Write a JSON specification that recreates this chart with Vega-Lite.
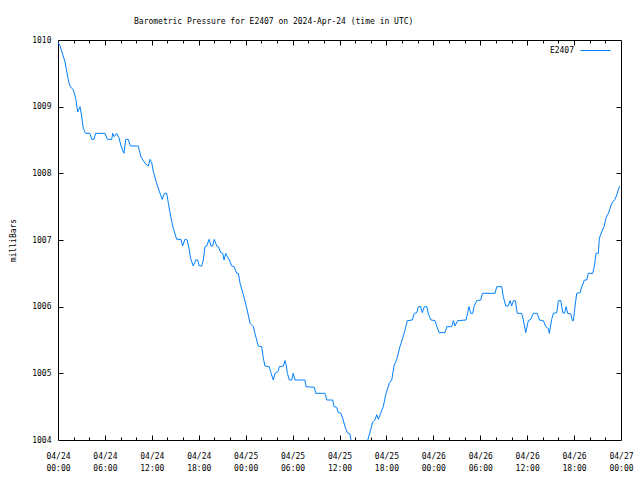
{
  "$schema": "https://vega.github.io/schema/vega-lite/v6.json",
  "width": 563,
  "height": 400,
  "autosize": "none",
  "padding": {"left": 58, "top": 40, "right": 19, "bottom": 40},
  "background": "white",
  "config": {
    "view": {"stroke": null},
    "font": "DejaVu Sans Mono",
    "axis": {
      "labelFont": "DejaVu Sans Mono", "labelFontSize": 8, "labelColor": "black",
      "titleFont": "DejaVu Sans Mono", "titleFontSize": 8, "titleFontWeight": "normal", "titleColor": "black",
      "domainColor": "black", "tickColor": "black", "tickOpacity": 1, "tickWidth": 1, "grid": false, "labelFlush": false, "labelOverlap": false, "labelBound": false
    }
  },
  "title": {
    "text": "Barometric Pressure for E2407 on 2024-Apr-24 (time in UTC)",
    "anchor": "start", "frame": "group", "dx": 76, "offset": 4, "baseline": "alphabetic",
    "font": "DejaVu Sans Mono", "fontSize": 8, "fontWeight": "normal", "color": "black"
  },
  "data": {"values": [
    {"time": "2024-04-24T00:00:00Z", "mb": 1009.97},
    {"time": "2024-04-24T00:16:00Z", "mb": 1009.91},
    {"time": "2024-04-24T00:54:00Z", "mb": 1009.67},
    {"time": "2024-04-24T01:19:00Z", "mb": 1009.4},
    {"time": "2024-04-24T01:32:00Z", "mb": 1009.31},
    {"time": "2024-04-24T01:58:00Z", "mb": 1009.25},
    {"time": "2024-04-24T02:16:00Z", "mb": 1009.12},
    {"time": "2024-04-24T02:31:00Z", "mb": 1008.92},
    {"time": "2024-04-24T02:49:00Z", "mb": 1009.0},
    {"time": "2024-04-24T03:02:00Z", "mb": 1008.85},
    {"time": "2024-04-24T03:14:00Z", "mb": 1008.67},
    {"time": "2024-04-24T03:32:00Z", "mb": 1008.6},
    {"time": "2024-04-24T04:05:00Z", "mb": 1008.6},
    {"time": "2024-04-24T04:19:00Z", "mb": 1008.51},
    {"time": "2024-04-24T04:36:00Z", "mb": 1008.51},
    {"time": "2024-04-24T04:49:00Z", "mb": 1008.6},
    {"time": "2024-04-24T06:01:00Z", "mb": 1008.6},
    {"time": "2024-04-24T06:18:00Z", "mb": 1008.51},
    {"time": "2024-04-24T06:52:00Z", "mb": 1008.51},
    {"time": "2024-04-24T07:00:00Z", "mb": 1008.6},
    {"time": "2024-04-24T07:12:00Z", "mb": 1008.55},
    {"time": "2024-04-24T07:30:00Z", "mb": 1008.6},
    {"time": "2024-04-24T07:48:00Z", "mb": 1008.53},
    {"time": "2024-04-24T08:04:00Z", "mb": 1008.41},
    {"time": "2024-04-24T08:26:00Z", "mb": 1008.3},
    {"time": "2024-04-24T08:40:00Z", "mb": 1008.51},
    {"time": "2024-04-24T08:59:00Z", "mb": 1008.51},
    {"time": "2024-04-24T09:15:00Z", "mb": 1008.41},
    {"time": "2024-04-24T10:16:00Z", "mb": 1008.41},
    {"time": "2024-04-24T10:36:00Z", "mb": 1008.25},
    {"time": "2024-04-24T11:08:00Z", "mb": 1008.15},
    {"time": "2024-04-24T11:33:00Z", "mb": 1008.11},
    {"time": "2024-04-24T11:46:00Z", "mb": 1008.21},
    {"time": "2024-04-24T11:59:00Z", "mb": 1008.16},
    {"time": "2024-04-24T12:11:00Z", "mb": 1008.03},
    {"time": "2024-04-24T12:37:00Z", "mb": 1007.85},
    {"time": "2024-04-24T13:03:00Z", "mb": 1007.7},
    {"time": "2024-04-24T13:20:00Z", "mb": 1007.61},
    {"time": "2024-04-24T13:36:00Z", "mb": 1007.7},
    {"time": "2024-04-24T13:54:00Z", "mb": 1007.7},
    {"time": "2024-04-24T14:07:00Z", "mb": 1007.55},
    {"time": "2024-04-24T14:25:00Z", "mb": 1007.35},
    {"time": "2024-04-24T14:45:00Z", "mb": 1007.17},
    {"time": "2024-04-24T15:11:00Z", "mb": 1007.01},
    {"time": "2024-04-24T15:44:00Z", "mb": 1007.01},
    {"time": "2024-04-24T15:56:00Z", "mb": 1006.91},
    {"time": "2024-04-24T16:14:00Z", "mb": 1007.01},
    {"time": "2024-04-24T16:32:00Z", "mb": 1007.0},
    {"time": "2024-04-24T16:47:00Z", "mb": 1006.85},
    {"time": "2024-04-24T16:58:00Z", "mb": 1006.72},
    {"time": "2024-04-24T17:18:00Z", "mb": 1006.61},
    {"time": "2024-04-24T17:37:00Z", "mb": 1006.7},
    {"time": "2024-04-24T17:52:00Z", "mb": 1006.7},
    {"time": "2024-04-24T18:04:00Z", "mb": 1006.61},
    {"time": "2024-04-24T18:23:00Z", "mb": 1006.61},
    {"time": "2024-04-24T18:35:00Z", "mb": 1006.7},
    {"time": "2024-04-24T18:48:00Z", "mb": 1006.9},
    {"time": "2024-04-24T19:01:00Z", "mb": 1006.91},
    {"time": "2024-04-24T19:19:00Z", "mb": 1007.01},
    {"time": "2024-04-24T19:34:00Z", "mb": 1006.91},
    {"time": "2024-04-24T19:47:00Z", "mb": 1006.91},
    {"time": "2024-04-24T19:59:00Z", "mb": 1007.01},
    {"time": "2024-04-24T20:18:00Z", "mb": 1006.91},
    {"time": "2024-04-24T20:30:00Z", "mb": 1006.9},
    {"time": "2024-04-24T20:49:00Z", "mb": 1006.81},
    {"time": "2024-04-24T21:04:00Z", "mb": 1006.8},
    {"time": "2024-04-24T21:14:00Z", "mb": 1006.7},
    {"time": "2024-04-24T21:27:00Z", "mb": 1006.8},
    {"time": "2024-04-24T21:39:00Z", "mb": 1006.75},
    {"time": "2024-04-24T21:55:00Z", "mb": 1006.7},
    {"time": "2024-04-24T22:13:00Z", "mb": 1006.61},
    {"time": "2024-04-24T22:31:00Z", "mb": 1006.6},
    {"time": "2024-04-24T22:52:00Z", "mb": 1006.5},
    {"time": "2024-04-24T23:04:00Z", "mb": 1006.5},
    {"time": "2024-04-24T23:17:00Z", "mb": 1006.35},
    {"time": "2024-04-24T23:42:00Z", "mb": 1006.18},
    {"time": "2024-04-25T00:08:00Z", "mb": 1005.98},
    {"time": "2024-04-25T00:34:00Z", "mb": 1005.75},
    {"time": "2024-04-25T00:59:00Z", "mb": 1005.7},
    {"time": "2024-04-25T01:11:00Z", "mb": 1005.6},
    {"time": "2024-04-25T01:37:00Z", "mb": 1005.41},
    {"time": "2024-04-25T02:03:00Z", "mb": 1005.4},
    {"time": "2024-04-25T02:16:00Z", "mb": 1005.22},
    {"time": "2024-04-25T02:28:00Z", "mb": 1005.11},
    {"time": "2024-04-25T03:01:00Z", "mb": 1005.1},
    {"time": "2024-04-25T03:14:00Z", "mb": 1005.01},
    {"time": "2024-04-25T03:32:00Z", "mb": 1004.9},
    {"time": "2024-04-25T03:45:00Z", "mb": 1005.0},
    {"time": "2024-04-25T04:10:00Z", "mb": 1005.03},
    {"time": "2024-04-25T04:18:00Z", "mb": 1005.1},
    {"time": "2024-04-25T04:49:00Z", "mb": 1005.11},
    {"time": "2024-04-25T05:02:00Z", "mb": 1005.19},
    {"time": "2024-04-25T05:10:00Z", "mb": 1005.13},
    {"time": "2024-04-25T05:20:00Z", "mb": 1005.0},
    {"time": "2024-04-25T05:35:00Z", "mb": 1004.9},
    {"time": "2024-04-25T05:53:00Z", "mb": 1004.9},
    {"time": "2024-04-25T06:05:00Z", "mb": 1005.0},
    {"time": "2024-04-25T06:19:00Z", "mb": 1004.9},
    {"time": "2024-04-25T07:35:00Z", "mb": 1004.9},
    {"time": "2024-04-25T07:43:00Z", "mb": 1004.8},
    {"time": "2024-04-25T08:47:00Z", "mb": 1004.79},
    {"time": "2024-04-25T08:58:00Z", "mb": 1004.7},
    {"time": "2024-04-25T10:09:00Z", "mb": 1004.7},
    {"time": "2024-04-25T10:22:00Z", "mb": 1004.6},
    {"time": "2024-04-25T11:08:00Z", "mb": 1004.6},
    {"time": "2024-04-25T11:18:00Z", "mb": 1004.5},
    {"time": "2024-04-25T11:38:00Z", "mb": 1004.49},
    {"time": "2024-04-25T11:51:00Z", "mb": 1004.41},
    {"time": "2024-04-25T12:11:00Z", "mb": 1004.4},
    {"time": "2024-04-25T12:29:00Z", "mb": 1004.3},
    {"time": "2024-04-25T12:42:00Z", "mb": 1004.2},
    {"time": "2024-04-25T13:00:00Z", "mb": 1004.11},
    {"time": "2024-04-25T13:20:00Z", "mb": 1004.09},
    {"time": "2024-04-25T13:28:00Z", "mb": 1004.0},
    {"time": "2024-04-25T13:54:00Z", "mb": 1003.85},
    {"time": "2024-04-25T14:36:00Z", "mb": 1003.75},
    {"time": "2024-04-25T15:12:00Z", "mb": 1003.85},
    {"time": "2024-04-25T15:37:00Z", "mb": 1004.0},
    {"time": "2024-04-25T15:54:00Z", "mb": 1004.12},
    {"time": "2024-04-25T16:15:00Z", "mb": 1004.27},
    {"time": "2024-04-25T16:32:00Z", "mb": 1004.3},
    {"time": "2024-04-25T16:46:00Z", "mb": 1004.38},
    {"time": "2024-04-25T16:58:00Z", "mb": 1004.31},
    {"time": "2024-04-25T17:16:00Z", "mb": 1004.4},
    {"time": "2024-04-25T17:36:00Z", "mb": 1004.5},
    {"time": "2024-04-25T17:57:00Z", "mb": 1004.7},
    {"time": "2024-04-25T18:22:00Z", "mb": 1004.85},
    {"time": "2024-04-25T18:41:00Z", "mb": 1004.9},
    {"time": "2024-04-25T18:58:00Z", "mb": 1005.11},
    {"time": "2024-04-25T19:19:00Z", "mb": 1005.21},
    {"time": "2024-04-25T19:44:00Z", "mb": 1005.4},
    {"time": "2024-04-25T20:05:00Z", "mb": 1005.53},
    {"time": "2024-04-25T20:23:00Z", "mb": 1005.65},
    {"time": "2024-04-25T20:40:00Z", "mb": 1005.79},
    {"time": "2024-04-25T21:19:00Z", "mb": 1005.8},
    {"time": "2024-04-25T21:34:00Z", "mb": 1005.9},
    {"time": "2024-04-25T21:53:00Z", "mb": 1005.91},
    {"time": "2024-04-25T22:05:00Z", "mb": 1006.0},
    {"time": "2024-04-25T22:23:00Z", "mb": 1006.0},
    {"time": "2024-04-25T22:35:00Z", "mb": 1005.91},
    {"time": "2024-04-25T22:51:00Z", "mb": 1006.0},
    {"time": "2024-04-25T23:10:00Z", "mb": 1006.0},
    {"time": "2024-04-25T23:22:00Z", "mb": 1005.89},
    {"time": "2024-04-25T23:42:00Z", "mb": 1005.8},
    {"time": "2024-04-26T00:13:00Z", "mb": 1005.79},
    {"time": "2024-04-26T00:26:00Z", "mb": 1005.71},
    {"time": "2024-04-26T00:44:00Z", "mb": 1005.61},
    {"time": "2024-04-26T01:29:00Z", "mb": 1005.61},
    {"time": "2024-04-26T01:43:00Z", "mb": 1005.7},
    {"time": "2024-04-26T02:21:00Z", "mb": 1005.7},
    {"time": "2024-04-26T02:34:00Z", "mb": 1005.79},
    {"time": "2024-04-26T02:46:00Z", "mb": 1005.71},
    {"time": "2024-04-26T03:07:00Z", "mb": 1005.79},
    {"time": "2024-04-26T04:11:00Z", "mb": 1005.8},
    {"time": "2024-04-26T04:24:00Z", "mb": 1005.91},
    {"time": "2024-04-26T04:34:00Z", "mb": 1006.0},
    {"time": "2024-04-26T04:47:00Z", "mb": 1005.9},
    {"time": "2024-04-26T05:02:00Z", "mb": 1005.9},
    {"time": "2024-04-26T05:12:00Z", "mb": 1006.0},
    {"time": "2024-04-26T05:33:00Z", "mb": 1006.09},
    {"time": "2024-04-26T06:04:00Z", "mb": 1006.1},
    {"time": "2024-04-26T06:16:00Z", "mb": 1006.2},
    {"time": "2024-04-26T07:53:00Z", "mb": 1006.2},
    {"time": "2024-04-26T08:07:00Z", "mb": 1006.3},
    {"time": "2024-04-26T08:45:00Z", "mb": 1006.3},
    {"time": "2024-04-26T08:57:00Z", "mb": 1006.15},
    {"time": "2024-04-26T09:16:00Z", "mb": 1006.01},
    {"time": "2024-04-26T09:35:00Z", "mb": 1006.01},
    {"time": "2024-04-26T09:49:00Z", "mb": 1006.09},
    {"time": "2024-04-26T10:01:00Z", "mb": 1006.01},
    {"time": "2024-04-26T10:14:00Z", "mb": 1006.09},
    {"time": "2024-04-26T10:29:00Z", "mb": 1006.09},
    {"time": "2024-04-26T10:44:00Z", "mb": 1005.9},
    {"time": "2024-04-26T11:18:00Z", "mb": 1005.9},
    {"time": "2024-04-26T11:31:00Z", "mb": 1005.8},
    {"time": "2024-04-26T11:49:00Z", "mb": 1005.61},
    {"time": "2024-04-26T12:09:00Z", "mb": 1005.79},
    {"time": "2024-04-26T12:28:00Z", "mb": 1005.81},
    {"time": "2024-04-26T12:47:00Z", "mb": 1005.9},
    {"time": "2024-04-26T13:18:00Z", "mb": 1005.9},
    {"time": "2024-04-26T13:34:00Z", "mb": 1005.8},
    {"time": "2024-04-26T14:04:00Z", "mb": 1005.79},
    {"time": "2024-04-26T14:23:00Z", "mb": 1005.7},
    {"time": "2024-04-26T14:43:00Z", "mb": 1005.67},
    {"time": "2024-04-26T14:50:00Z", "mb": 1005.6},
    {"time": "2024-04-26T15:08:00Z", "mb": 1005.81},
    {"time": "2024-04-26T15:21:00Z", "mb": 1005.9},
    {"time": "2024-04-26T15:47:00Z", "mb": 1005.91},
    {"time": "2024-04-26T15:59:00Z", "mb": 1006.09},
    {"time": "2024-04-26T16:18:00Z", "mb": 1006.09},
    {"time": "2024-04-26T16:33:00Z", "mb": 1005.91},
    {"time": "2024-04-26T16:46:00Z", "mb": 1005.9},
    {"time": "2024-04-26T16:59:00Z", "mb": 1006.0},
    {"time": "2024-04-26T17:11:00Z", "mb": 1005.9},
    {"time": "2024-04-26T17:35:00Z", "mb": 1005.89},
    {"time": "2024-04-26T17:47:00Z", "mb": 1005.79},
    {"time": "2024-04-26T17:55:00Z", "mb": 1005.79},
    {"time": "2024-04-26T18:07:00Z", "mb": 1006.0},
    {"time": "2024-04-26T18:20:00Z", "mb": 1006.2},
    {"time": "2024-04-26T18:46:00Z", "mb": 1006.21},
    {"time": "2024-04-26T18:59:00Z", "mb": 1006.3},
    {"time": "2024-04-26T19:19:00Z", "mb": 1006.4},
    {"time": "2024-04-26T19:37:00Z", "mb": 1006.4},
    {"time": "2024-04-26T19:49:00Z", "mb": 1006.5},
    {"time": "2024-04-26T20:23:00Z", "mb": 1006.5},
    {"time": "2024-04-26T20:35:00Z", "mb": 1006.6},
    {"time": "2024-04-26T20:49:00Z", "mb": 1006.8},
    {"time": "2024-04-26T21:06:00Z", "mb": 1006.8},
    {"time": "2024-04-26T21:14:00Z", "mb": 1007.03},
    {"time": "2024-04-26T21:32:00Z", "mb": 1007.12},
    {"time": "2024-04-26T21:50:00Z", "mb": 1007.2},
    {"time": "2024-04-26T22:05:00Z", "mb": 1007.33},
    {"time": "2024-04-26T22:23:00Z", "mb": 1007.4},
    {"time": "2024-04-26T22:49:00Z", "mb": 1007.55},
    {"time": "2024-04-26T23:14:00Z", "mb": 1007.61},
    {"time": "2024-04-26T23:32:00Z", "mb": 1007.7},
    {"time": "2024-04-26T23:47:00Z", "mb": 1007.8},
    {"time": "2024-04-26T23:52:00Z", "mb": 1007.81}
  ]},
  "layer": [
    {
      "mark": {"type": "line", "strokeWidth": 1, "clip": true},
      "encoding": {
        "x": {
          "field": "time", "type": "temporal",
          "scale": {"type": "utc", "domain": [{"year": 2024, "month": 4, "date": 24, "utc": true}, {"year": 2024, "month": 4, "date": 27, "utc": true}]},
          "axis": {
            "orient": "bottom", "title": null, "ticks": false, "tickSize": 0, "labelPadding": 12, "labelLineHeight": 12,
            "labelExpr": "[utcFormat(datum.value, '%m/%d'), utcFormat(datum.value, '%H:%M')]",
            "values": [
              {"year": 2024, "month": 4, "date": 24, "hours": 0, "utc": true},
              {"year": 2024, "month": 4, "date": 24, "hours": 6, "utc": true},
              {"year": 2024, "month": 4, "date": 24, "hours": 12, "utc": true},
              {"year": 2024, "month": 4, "date": 24, "hours": 18, "utc": true},
              {"year": 2024, "month": 4, "date": 25, "hours": 0, "utc": true},
              {"year": 2024, "month": 4, "date": 25, "hours": 6, "utc": true},
              {"year": 2024, "month": 4, "date": 25, "hours": 12, "utc": true},
              {"year": 2024, "month": 4, "date": 25, "hours": 18, "utc": true},
              {"year": 2024, "month": 4, "date": 26, "hours": 0, "utc": true},
              {"year": 2024, "month": 4, "date": 26, "hours": 6, "utc": true},
              {"year": 2024, "month": 4, "date": 26, "hours": 12, "utc": true},
              {"year": 2024, "month": 4, "date": 26, "hours": 18, "utc": true},
              {"year": 2024, "month": 4, "date": 27, "hours": 0, "utc": true}
            ]
          }
        },
        "y": {
          "field": "mb", "type": "quantitative",
          "scale": {"domain": [1004, 1010], "nice": false, "zero": false},
          "axis": {"orient": "left", "title": "milliBars", "titlePadding": 14, "ticks": false, "tickSize": 0, "labelPadding": 7, "format": "d",
                   "values": [1004, 1005, 1006, 1007, 1008, 1009, 1010]}
        },
        "color": {
          "datum": "E2407", "type": "nominal",
          "scale": {"range": ["#0080ff"]},
          "legend": {
            "title": null, "orient": "top-right", "offset": 5, "padding": 0,
            "symbolType": "M-3,0H3M3.6,0", "symbolSize": 100, "symbolStrokeWidth": 1,
            "labelAlign": "right", "labelOffset": -27,
            "labelFont": "DejaVu Sans Mono", "labelFontSize": 8, "labelColor": "black"
          }
        }
      }
    },
    {
      "mark": {"type": "point", "opacity": 0, "clip": true},
      "encoding": {
        "x": {"field": "time", "type": "temporal", "axis": {"orient": "top", "title": null, "labels": false, "ticks": false, "tickSize": 0}},
        "y": {"field": "mb", "type": "quantitative", "axis": {"orient": "right", "title": null, "labels": false, "ticks": false, "tickSize": 0}}
      }
    },
    {
      "mark": {"type": "point", "opacity": 0, "clip": true},
      "encoding": {
        "x": {
          "field": "time", "type": "temporal",
          "axis": {
            "orient": "bottom", "offset": -5, "title": null, "labels": false, "domain": false, "ticks": true, "tickSize": 5, "tickColor": "black",
            "values": [
              {"year": 2024, "month": 4, "date": 24, "hours": 6, "utc": true},
              {"year": 2024, "month": 4, "date": 24, "hours": 12, "utc": true},
              {"year": 2024, "month": 4, "date": 24, "hours": 18, "utc": true},
              {"year": 2024, "month": 4, "date": 25, "hours": 0, "utc": true},
              {"year": 2024, "month": 4, "date": 25, "hours": 6, "utc": true},
              {"year": 2024, "month": 4, "date": 25, "hours": 12, "utc": true},
              {"year": 2024, "month": 4, "date": 25, "hours": 18, "utc": true},
              {"year": 2024, "month": 4, "date": 26, "hours": 0, "utc": true},
              {"year": 2024, "month": 4, "date": 26, "hours": 6, "utc": true},
              {"year": 2024, "month": 4, "date": 26, "hours": 12, "utc": true},
              {"year": 2024, "month": 4, "date": 26, "hours": 18, "utc": true}
            ]
          }
        },
        "y": {
          "field": "mb", "type": "quantitative",
          "axis": {"orient": "left", "offset": -5, "title": null, "labels": false, "domain": false, "ticks": true, "tickSize": 5, "tickColor": "black",
                   "values": [1005, 1006, 1007, 1008, 1009]}
        }
      }
    },
    {
      "mark": {"type": "point", "opacity": 0, "clip": true},
      "encoding": {
        "x": {
          "field": "time", "type": "temporal",
          "axis": {
            "orient": "top", "offset": -5, "title": null, "labels": false, "domain": false, "ticks": true, "tickSize": 5, "tickColor": "black",
            "values": [
              {"year": 2024, "month": 4, "date": 24, "hours": 6, "utc": true},
              {"year": 2024, "month": 4, "date": 24, "hours": 12, "utc": true},
              {"year": 2024, "month": 4, "date": 24, "hours": 18, "utc": true},
              {"year": 2024, "month": 4, "date": 25, "hours": 0, "utc": true},
              {"year": 2024, "month": 4, "date": 25, "hours": 6, "utc": true},
              {"year": 2024, "month": 4, "date": 25, "hours": 12, "utc": true},
              {"year": 2024, "month": 4, "date": 25, "hours": 18, "utc": true},
              {"year": 2024, "month": 4, "date": 26, "hours": 0, "utc": true},
              {"year": 2024, "month": 4, "date": 26, "hours": 6, "utc": true},
              {"year": 2024, "month": 4, "date": 26, "hours": 12, "utc": true},
              {"year": 2024, "month": 4, "date": 26, "hours": 18, "utc": true}
            ]
          }
        },
        "y": {
          "field": "mb", "type": "quantitative",
          "axis": {"orient": "right", "offset": -5, "title": null, "labels": false, "domain": false, "ticks": true, "tickSize": 5, "tickColor": "black",
                   "values": [1005, 1006, 1007, 1008, 1009]}
        }
      }
    },
    {
      "mark": {"type": "point", "opacity": 0, "clip": true},
      "encoding": {
        "x": {
          "field": "time", "type": "temporal",
          "axis": {
            "orient": "bottom", "offset": -3, "title": null, "labels": false, "domain": false, "ticks": true, "tickSize": 3, "tickColor": "black",
            "values": [
              {"year": 2024, "month": 4, "date": 24, "hours": 2, "utc": true},
              {"year": 2024, "month": 4, "date": 24, "hours": 4, "utc": true},
              {"year": 2024, "month": 4, "date": 24, "hours": 8, "utc": true},
              {"year": 2024, "month": 4, "date": 24, "hours": 10, "utc": true},
              {"year": 2024, "month": 4, "date": 24, "hours": 14, "utc": true},
              {"year": 2024, "month": 4, "date": 24, "hours": 16, "utc": true},
              {"year": 2024, "month": 4, "date": 24, "hours": 20, "utc": true},
              {"year": 2024, "month": 4, "date": 24, "hours": 22, "utc": true},
              {"year": 2024, "month": 4, "date": 25, "hours": 2, "utc": true},
              {"year": 2024, "month": 4, "date": 25, "hours": 4, "utc": true},
              {"year": 2024, "month": 4, "date": 25, "hours": 8, "utc": true},
              {"year": 2024, "month": 4, "date": 25, "hours": 10, "utc": true},
              {"year": 2024, "month": 4, "date": 25, "hours": 14, "utc": true},
              {"year": 2024, "month": 4, "date": 25, "hours": 16, "utc": true},
              {"year": 2024, "month": 4, "date": 25, "hours": 20, "utc": true},
              {"year": 2024, "month": 4, "date": 25, "hours": 22, "utc": true},
              {"year": 2024, "month": 4, "date": 26, "hours": 2, "utc": true},
              {"year": 2024, "month": 4, "date": 26, "hours": 4, "utc": true},
              {"year": 2024, "month": 4, "date": 26, "hours": 8, "utc": true},
              {"year": 2024, "month": 4, "date": 26, "hours": 10, "utc": true},
              {"year": 2024, "month": 4, "date": 26, "hours": 14, "utc": true},
              {"year": 2024, "month": 4, "date": 26, "hours": 16, "utc": true},
              {"year": 2024, "month": 4, "date": 26, "hours": 20, "utc": true},
              {"year": 2024, "month": 4, "date": 26, "hours": 22, "utc": true}
            ]
          }
        },
        "y": {"field": "mb", "type": "quantitative", "axis": null}
      }
    },
    {
      "mark": {"type": "point", "opacity": 0, "clip": true},
      "encoding": {
        "x": {
          "field": "time", "type": "temporal",
          "axis": {
            "orient": "top", "offset": -3, "title": null, "labels": false, "domain": false, "ticks": true, "tickSize": 3, "tickColor": "black",
            "values": [
              {"year": 2024, "month": 4, "date": 24, "hours": 2, "utc": true},
              {"year": 2024, "month": 4, "date": 24, "hours": 4, "utc": true},
              {"year": 2024, "month": 4, "date": 24, "hours": 8, "utc": true},
              {"year": 2024, "month": 4, "date": 24, "hours": 10, "utc": true},
              {"year": 2024, "month": 4, "date": 24, "hours": 14, "utc": true},
              {"year": 2024, "month": 4, "date": 24, "hours": 16, "utc": true},
              {"year": 2024, "month": 4, "date": 24, "hours": 20, "utc": true},
              {"year": 2024, "month": 4, "date": 24, "hours": 22, "utc": true},
              {"year": 2024, "month": 4, "date": 25, "hours": 2, "utc": true},
              {"year": 2024, "month": 4, "date": 25, "hours": 4, "utc": true},
              {"year": 2024, "month": 4, "date": 25, "hours": 8, "utc": true},
              {"year": 2024, "month": 4, "date": 25, "hours": 10, "utc": true},
              {"year": 2024, "month": 4, "date": 25, "hours": 14, "utc": true},
              {"year": 2024, "month": 4, "date": 25, "hours": 16, "utc": true},
              {"year": 2024, "month": 4, "date": 25, "hours": 20, "utc": true},
              {"year": 2024, "month": 4, "date": 25, "hours": 22, "utc": true},
              {"year": 2024, "month": 4, "date": 26, "hours": 2, "utc": true},
              {"year": 2024, "month": 4, "date": 26, "hours": 4, "utc": true},
              {"year": 2024, "month": 4, "date": 26, "hours": 8, "utc": true},
              {"year": 2024, "month": 4, "date": 26, "hours": 10, "utc": true},
              {"year": 2024, "month": 4, "date": 26, "hours": 14, "utc": true},
              {"year": 2024, "month": 4, "date": 26, "hours": 16, "utc": true},
              {"year": 2024, "month": 4, "date": 26, "hours": 20, "utc": true},
              {"year": 2024, "month": 4, "date": 26, "hours": 22, "utc": true}
            ]
          }
        },
        "y": {"field": "mb", "type": "quantitative", "axis": null}
      }
    }
  ],
  "resolve": {"axis": {"x": "independent", "y": "independent"}}
}
